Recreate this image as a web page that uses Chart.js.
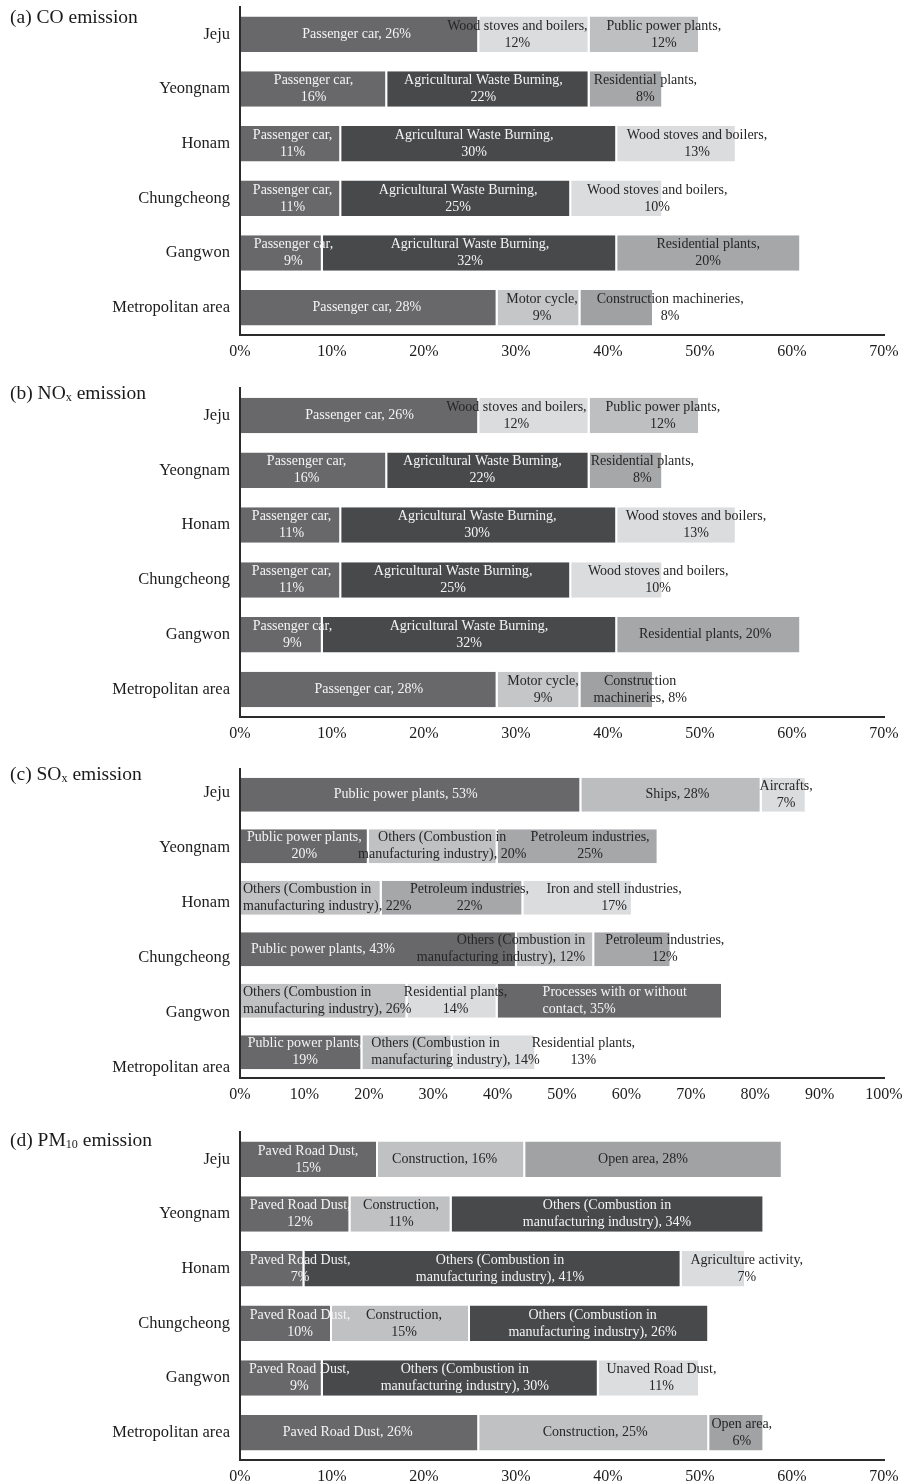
<!DOCTYPE html>
<html>
<head>
<meta charset="utf-8">
<script src="https://cdn.jsdelivr.net/npm/chart.js@4.4.1/dist/chart.umd.min.js"></script>
<style>
  html, body { margin: 0; padding: 0; background: #ffffff; }
  #page { position: relative; width: 910px; height: 1484px; overflow: hidden; }
  .panel { position: absolute; left: 0; width: 910px; }
  .panel canvas { position: absolute; left: 0; top: 0; }
  .title {
    position: absolute; left: 10px;
    font-family: "Liberation Serif", "Times New Roman", Times, serif;
    font-size: 19.5px; line-height: 22px; color: #1a1a1a; white-space: nowrap;
  }
  .title .sub { font-size: 0.62em; position: relative; top: 0.14em; }
</style>
</head>
<body>
<div id="page">
  <div class="panel" style="top:0;height:380px">
    <canvas id="coChart" width="910" height="380"></canvas>
    <div class="title" style="top:6px">(a) CO emission</div>
  </div>
  <div class="panel" style="top:380px;height:380px">
    <canvas id="noxChart" width="910" height="380"></canvas>
    <div class="title" style="top:2px">(b) NO<span class="sub">x</span> emission</div>
  </div>
  <div class="panel" style="top:760px;height:360px">
    <canvas id="soxChart" width="910" height="360"></canvas>
    <div class="title" style="top:3px">(c) SO<span class="sub">x</span> emission</div>
  </div>
  <div class="panel" style="top:1120px;height:364px">
    <canvas id="pmChart" width="910" height="364"></canvas>
    <div class="title" style="top:9px">(d) PM<span class="sub">10</span> emission</div>
  </div>
</div>
<script>
// ---------- data ----------
const regions = ['Jeju', 'Yeongnam', 'Honam', 'Chungcheong', 'Gangwon', 'Metropolitan area'];
const OTHERS = 'Others (Combustion in\nmanufacturing industry)';

// (a) CO: three largest sources per region (share of regional emission, %)
const coSource1 = ['Passenger car', 'Passenger car', 'Passenger car', 'Passenger car', 'Passenger car', 'Passenger car'];
const coShare1 = [26, 16, 11, 11, 9, 28];
const coSource2 = ['Wood stoves and boilers', 'Agricultural Waste Burning', 'Agricultural Waste Burning', 'Agricultural Waste Burning', 'Agricultural Waste Burning', 'Motor cycle'];
const coShare2 = [12, 22, 30, 25, 32, 9];
const coSource3 = ['Public power plants', 'Residential plants', 'Wood stoves and boilers', 'Wood stoves and boilers', 'Residential plants', 'Construction machineries'];
const coShare3 = [12, 8, 13, 10, 20, 8];

// (b) NOx
const noxSource1 = ['Passenger car', 'Passenger car', 'Passenger car', 'Passenger car', 'Passenger car', 'Passenger car'];
const noxShare1 = [26, 16, 11, 11, 9, 28];
const noxSource2 = ['Wood stoves and boilers', 'Agricultural Waste Burning', 'Agricultural Waste Burning', 'Agricultural Waste Burning', 'Agricultural Waste Burning', 'Motor cycle'];
const noxShare2 = [12, 22, 30, 25, 32, 9];
const noxSource3 = ['Public power plants', 'Residential plants', 'Wood stoves and boilers', 'Wood stoves and boilers', 'Residential plants', 'Construction\nmachineries'];
const noxShare3 = [12, 8, 13, 10, 20, 8];

// (c) SOx
const soxSource1 = ['Public power plants', 'Public power plants', OTHERS, 'Public power plants', OTHERS, 'Public power plants'];
const soxShare1 = [53, 20, 22, 43, 26, 19];
const soxSource2 = ['Ships', OTHERS, 'Petroleum industries', OTHERS, 'Residential plants', OTHERS];
const soxShare2 = [28, 20, 22, 12, 14, 14];
const soxSource3 = ['Aircrafts', 'Petroleum industries', 'Iron and stell industries', 'Petroleum industries', 'Processes with or without\ncontact', 'Residential plants'];
const soxShare3 = [7, 25, 17, 12, 35, 13];

// (d) PM10
const pmSource1 = ['Paved Road Dust', 'Paved Road Dust', 'Paved Road Dust', 'Paved Road Dust', 'Paved Road Dust', 'Paved Road Dust'];
const pmShare1 = [15, 12, 7, 10, 9, 26];
const pmSource2 = ['Construction', 'Construction', OTHERS, 'Construction', OTHERS, 'Construction'];
const pmShare2 = [16, 11, 41, 15, 30, 25];
const pmSource3 = ['Open area', OTHERS, 'Agriculture activity', OTHERS, 'Unaved Road Dust', 'Open area'];
const pmShare3 = [28, 34, 7, 26, 11, 6];

// ---------- styling ----------
const SERIF = '"Liberation Serif", "Times New Roman", Times, serif';
Chart.defaults.font.family = SERIF;
const DARK = '#48494b', MID_DARK = '#68686a';
const DARK_FILLS = new Set([DARK, MID_DARK]);
const keyOf = s => s.replace(/\n/g, ' ');

const coColors = {
  'Passenger car': MID_DARK, 'Agricultural Waste Burning': DARK,
  'Wood stoves and boilers': '#dbdcde', 'Public power plants': '#bebfc1',
  'Residential plants': '#a6a7a9', 'Motor cycle': '#c5c6c8',
  'Construction machineries': '#a0a1a3'
};
const soxColors = {
  'Public power plants': MID_DARK, 'Ships': '#bcbdbf', 'Aircrafts': '#dbdcde',
  'Others (Combustion in manufacturing industry)': '#c0c1c3',
  'Petroleum industries': '#a6a7a9', 'Iron and stell industries': '#dbdcde',
  'Residential plants': '#dbdcde', 'Processes with or without contact': MID_DARK
};
const pmColors = {
  'Paved Road Dust': MID_DARK, 'Construction': '#c0c1c3', 'Open area': '#a1a2a4',
  'Others (Combustion in manufacturing industry)': DARK,
  'Agriculture activity': '#dbdcde', 'Unaved Road Dust': '#dcdddf'
};

// Segment label layout: 1 = value on its own line; place = anchor (c/l/r) + nudge in px
const coWrap = [[0,1,1],[1,1,1],[1,1,1],[1,1,1],[1,1,1],[0,1,1]];
const coPlace = [['c-3','c-17','c+19'],['c0','c-5','c+19'],['c+2','c-5','c+20'],['c+2','c+2','c+40'],['c+12','c0','c-1'],['c-2','c+3','c+53']];
const noxWrap = [[0,1,1],[1,1,1],[1,1,1],[1,1,1],[1,1,0],[0,1,0]];
const noxPlace = [['c0','c-18','c+18'],['c-7','c-6','c+16'],['c+1','c-2','c+19'],['c+1','c-3','c+41'],['c+11','c-1','c-4'],['c0','c+4','c+23']];
const soxWrap = [[0,0,1],[1,0,1],[0,1,1],[0,0,1],[0,1,0],[1,0,1]];
const soxPlace = [['c-5','c+6','c+2'],['c0','c+9','c+12'],['l+3','c+17','c+36'],['l+11','r-9','c+32'],['l+3','c+3','l+45'],['c+4','l+9','c+89']];
const pmWrap = [[1,0,0],[1,1,0],[1,0,1],[1,1,0],[1,0,1],[0,0,1]];
const pmPlace = [['c-1','c-7','c-11'],['c+5','c0','c-1'],['c+28','c+7','c+33'],['c+14','c+3','c+3'],['c+18','c+4','c+12'],['c-12','c+1','c+5']];

// Writes "Source, NN%" onto each stacked segment
const segmentLabels = {
  id: 'segmentLabels',
  afterDatasetsDraw(chart, args, opts) {
    const ctx = chart.ctx;
    ctx.save();
    ctx.font = opts.size + 'px ' + SERIF;
    ctx.textBaseline = 'middle';
    chart.data.datasets.forEach((ds, k) => {
      chart.getDatasetMeta(k).data.forEach((bar, i) => {
        const p = bar.getProps(['x', 'y', 'base'], true);
        const lo = Math.min(p.x, p.base), hi = Math.max(p.x, p.base);
        const txt = ds.sources[i] + (opts.wrap[i][k] ? ',\n' : ', ') + ds.data[i] + '%';
        const lines = txt.split('\n');
        const spec = opts.place[i][k];
        const mode = spec[0];
        const dx = parseFloat(spec.slice(1)) || 0;
        let ax;
        if (mode === 'l') { ax = lo + dx; ctx.textAlign = 'left'; }
        else if (mode === 'r') { ax = hi + dx; ctx.textAlign = 'right'; }
        else { ax = (lo + hi) / 2 + dx; ctx.textAlign = 'center'; }
        ctx.fillStyle = DARK_FILLS.has(ds.backgroundColor[i]) ? opts.lightText : opts.darkText;
        lines.forEach((t, n) => {
          ctx.fillText(t, ax, p.y + (n - (lines.length - 1) / 2) * opts.lineHeight);
        });
      });
    });
    ctx.restore();
  }
};

const zeroPad = s => { s.paddingLeft = 0; s.paddingRight = 0; s.paddingTop = 0; s.paddingBottom = 0; };
const AXIS_COLOR = '#2b2b2b';
const TICK_COLOR = '#1c1c1c';

function drawPanel(id, p) {
  const datasets = p.shares.map((share, k) => ({
    data: share,
    sources: p.sources[k],
    backgroundColor: p.sources[k].map(s => p.colors[keyOf(s)]),
    borderColor: '#ffffff',
    borderWidth: { top: 0, bottom: 0, left: 0, right: 2 },
    borderSkipped: false,
    inflateAmount: 0,
    barThickness: p.barThickness
  }));

  const scales = {
    x: {
      type: 'linear', stacked: true, min: 0, max: p.xMax,
      grid: { display: false, drawTicks: false },
      border: { display: true, color: AXIS_COLOR, width: 2, z: 1 },
      ticks: {
        stepSize: 10, autoSkip: false, maxRotation: 0, padding: 7,
        color: TICK_COLOR, font: { size: 16 },
        callback: v => v + '%'
      },
      afterFit: s => { s.height = p.xAxisHeight; zeroPad(s); }
    },
    y: {
      type: 'category', stacked: true,
      grid: { display: false, drawTicks: false },
      border: { display: true, color: AXIS_COLOR, width: 2, z: 1 },
      ticks: { display: !p.labelRange, padding: 10, color: TICK_COLOR, font: { size: 16.5 } },
      afterFit: s => { s.width = p.labelRange ? 0 : 240; zeroPad(s); }
    }
  };
  if (p.labelRange) {
    // region names on their own evenly spaced axis
    scales.yl = {
      type: 'linear', position: 'left', weight: 1, reverse: true, offset: false,
      min: p.labelRange[0], max: p.labelRange[1],
      grid: { display: false, drawTicks: false, offset: false },
      border: { display: false },
      afterBuildTicks: s => { s.ticks = regions.map((r, i) => ({ value: i })); },
      ticks: { padding: 10, color: TICK_COLOR, font: { size: 16.5 }, callback: v => regions[v] },
      afterFit: s => { s.width = 240; zeroPad(s); }
    };
  }

  new Chart(document.getElementById(id), {
    type: 'bar',
    data: { labels: regions, datasets },
    options: {
      indexAxis: 'y',
      responsive: false,
      animation: false,
      devicePixelRatio: 1,
      layout: { padding: { top: p.top, right: 26, bottom: 0, left: 0 } },
      plugins: {
        legend: { display: false },
        tooltip: { enabled: false },
        segmentLabels: {
          wrap: p.wrap, place: p.place, size: 14, lineHeight: 17,
          lightText: '#f4f4f4', darkText: '#262626'
        }
      },
      scales
    },
    plugins: [segmentLabels]
  });
}

drawPanel('coChart', {
  sources: [coSource1, coSource2, coSource3], shares: [coShare1, coShare2, coShare3],
  colors: coColors, wrap: coWrap, place: coPlace,
  xMax: 70, top: 7, xAxisHeight: 45, barThickness: 35.5
});
drawPanel('noxChart', {
  sources: [noxSource1, noxSource2, noxSource3], shares: [noxShare1, noxShare2, noxShare3],
  colors: coColors, wrap: noxWrap, place: noxPlace,
  xMax: 70, top: 8, xAxisHeight: 43, barThickness: 35.5
});
drawPanel('soxChart', {
  sources: [soxSource1, soxSource2, soxSource3], shares: [soxShare1, soxShare2, soxShare3],
  colors: soxColors, wrap: soxWrap, place: soxPlace,
  xMax: 100, top: 9, xAxisHeight: 42, barThickness: 34,
  labelRange: [-0.436, 5.182]
});
drawPanel('pmChart', {
  sources: [pmSource1, pmSource2, pmSource3], shares: [pmShare1, pmShare2, pmShare3],
  colors: pmColors, wrap: pmWrap, place: pmPlace,
  xMax: 70, top: 12, xAxisHeight: 24, barThickness: 35.5
});
</script>
</body>
</html>
